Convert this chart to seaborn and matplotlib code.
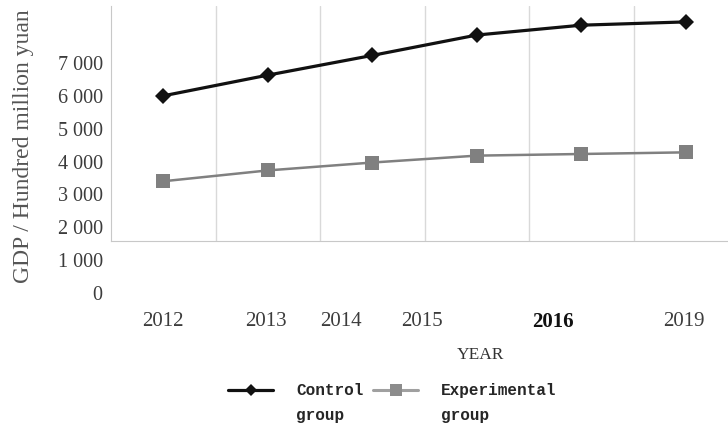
import numpy as np
import pandas as pd
import matplotlib
matplotlib.use('Agg')
import matplotlib.pyplot as plt
from matplotlib.lines import Line2D
import seaborn as sns

years = ['2012', '2013', '2014', '2015', '2016', '2019']
control = [6000, 6630, 7230, 7850, 8150, 8250]
experimental = [3400, 3730, 3970, 4180, 4230, 4280]
ytick_values = [0, 1000, 2000, 3000, 4000, 5000, 6000, 7000]
ytick_labels = ['0', '1 000', '2 000', '3 000', '4 000', '5 000', '6 000', '7 000']
# the x labels in the source sit off their categories
xlabel_pos = [0.0, 0.98, 1.70, 2.48, 3.73, 4.98]

df = pd.DataFrame({
    'pos': list(range(len(years))) * 2,
    'value': control + experimental,
    'group': ['Control'] * len(years) + ['Experimental'] * len(years),
})

sns.set_style('white')
plt.rcParams['font.family'] = ['Liberation Serif', 'DejaVu Serif']

fig = plt.figure(figsize=(7.28, 4.32), dpi=100)
W, H = 728, 432
left = 111 / W
xlim = (-0.5, -0.5 + (W - 111) / 104.5)

# tick-label axes (taller than the plotting box, like the source)
lab = fig.add_axes([left, 1 - 293 / H, 1 - left, (293 - 6) / H])
lab.set_xlim(*xlim)
lab.set_ylim(0, 8734)
lab.patch.set_visible(False)
for s in lab.spines.values():
    s.set_visible(False)
lab.set_yticks(ytick_values)
lab.set_yticklabels(ytick_labels, fontsize=14.5, color='#3c3c3c')
lab.set_xticks(xlabel_pos)
lab.set_xticklabels(years, fontsize=15, color='#3c3c3c')
lab.get_xticklabels()[4].set_fontweight('bold')
lab.get_xticklabels()[4].set_color('#111111')
lab.tick_params(axis='y', length=0, pad=6)
lab.tick_params(axis='x', length=0, pad=14)
lab.set_ylabel('GDP / Hundred million yuan', fontsize=17, color='#555555')
lab.yaxis.set_label_coords(-0.124, 0.51)

# plotting box
ax = fig.add_axes([left, 1 - 241 / H, 1 - left, (241 - 6) / H])
ax.patch.set_visible(False)
ax.set_xlim(*xlim)
ax.set_ylim(1582, 8734)
for name in ['top', 'right']:
    ax.spines[name].set_visible(False)
ax.spines['left'].set_color('#c8c8c8')
ax.spines['bottom'].set_color('#c8c8c8')
ax.set_xticks(np.arange(0.5, len(years) - 0.5, 1.0))
ax.set_xticklabels([])
ax.set_yticks([])
ax.tick_params(axis='x', length=0)
ax.grid(axis='x', color='#d9d9d9', linewidth=1)

styles = {
    'Control': dict(color='#111111', marker='D', markersize=8.5, linewidth=2.3),
    'Experimental': dict(color='#808080', marker='s', markersize=10, linewidth=1.8),
}
for g, kw in styles.items():
    sns.lineplot(data=df[df['group'] == g], x='pos', y='value', ax=ax,
                 markeredgewidth=0, legend=False, **kw)
ax.set_xlabel('')
ax.set_ylabel('')

# legend: two columns, second row carries "group" under each name
blank = Line2D([], [], linestyle='none')
handles = [Line2D([], [], color='#111111', marker='D', markersize=6, linewidth=2.3, markeredgewidth=0),
           blank,
           Line2D([], [], color='#a0a0a0', marker='s', markersize=8, linewidth=2.2,
                  markerfacecolor='#8c8c8c', markeredgewidth=0),
           blank]
labels = ['Control', 'group', 'Experimental', 'group']
fig.legend(handles, labels, loc='upper left', bbox_to_anchor=(214 / W, 1 - 369 / H),
           ncol=2, frameon=False, handlelength=2.8, handletextpad=1.45,
           labelspacing=0.62, columnspacing=0.6,
           prop={'family': 'Liberation Mono', 'weight': 'bold', 'size': 11.5})

fig.text(480 / W, 1 - 355 / H, 'YEAR', ha='center', va='center', fontsize=12.5,
         color='#333333', family='Liberation Serif')

fig.savefig('out.png', dpi=100)
